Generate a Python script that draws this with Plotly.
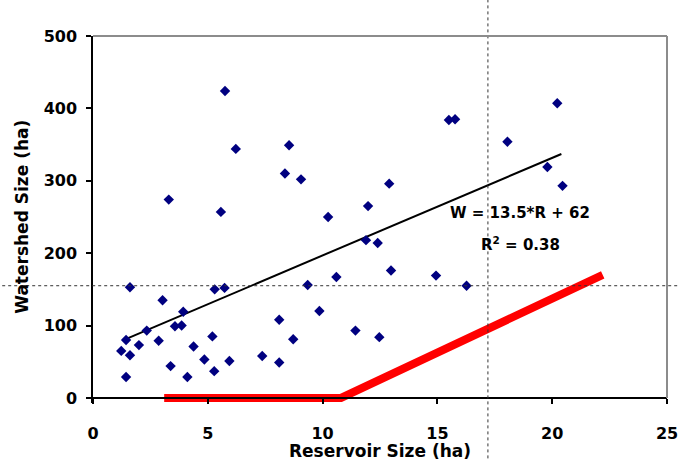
import plotly.graph_objects as go

# Scatter data: reservoir size (ha) vs watershed size (ha)
reservoir = [5.75, 6.22, 8.54, 8.36, 9.06, 3.30, 5.57, 10.24, 11.98, 11.89,
             12.40, 10.60, 9.35, 1.61, 5.30, 5.73, 3.03, 3.93, 2.34, 3.57,
             3.86, 9.86, 8.11, 1.44, 2.00, 2.86, 1.23, 1.61, 4.38, 5.20,
             8.72, 11.43, 12.47, 7.37, 8.11, 4.85, 5.28, 5.94, 3.38, 4.11,
             1.44, 12.90, 15.50, 15.77, 18.05, 20.22, 19.79, 20.45, 12.98, 14.94,
             16.27]
watershed = [424, 344, 349, 310, 302, 274, 257, 250, 265, 218,
             214, 167, 156, 153, 150, 152, 135, 119, 93, 99,
             100, 120, 108, 80, 73, 79, 65, 59, 71, 85,
             81, 93, 84, 58, 49, 53, 37, 51, 44, 29,
             29, 296, 384, 385, 354, 407, 319, 293, 176, 169,
             155]

# Regression line end points
trend_x = [1.4, 20.4]
trend_y = [81, 337]

# Red threshold line
red_x = [3.1, 10.8, 22.2]
red_y = [0, 0, 170]

# Reference (dotted) lines
ref_x = 17.2
ref_y = 155

x_ticks = [0, 5, 10, 15, 20, 25]
y_ticks = [0, 100, 200, 300, 400, 500]

FONT = "DejaVu Sans"
Y_MIN = -7
Y_MAX = 500

fig = go.Figure()
fig.add_trace(go.Scatter(x=trend_x, y=trend_y, mode="lines",
                         line=dict(color="black", width=2), showlegend=False))
fig.add_trace(go.Scatter(x=reservoir, y=watershed, mode="markers",
                         marker=dict(symbol="diamond", size=8, color="#000080",
                                     line=dict(width=0)),
                         showlegend=False))
fig.add_trace(go.Scatter(x=red_x, y=red_y, mode="lines",
                         line=dict(color="#FF0000", width=8), showlegend=False))

# dotted reference lines spanning beyond the plot area
fig.add_shape(type="line", xref="x", yref="paper", x0=ref_x, x1=ref_x,
              y0=-0.2, y1=1.2, line=dict(color="#333333", width=1, dash="dot"))
fig.add_shape(type="line", xref="paper", yref="y", x0=-0.2, x1=1.1,
              y0=ref_y, y1=ref_y, line=dict(color="#333333", width=1, dash="dot"))

pos0 = (0 - Y_MIN) / (Y_MAX - Y_MIN)
# gray frame top & right
fig.add_shape(type="line", xref="paper", yref="paper", x0=0, x1=1, y0=1, y1=1,
              line=dict(color="#8c8c8c", width=2))
fig.add_shape(type="line", xref="paper", yref="paper", x0=1, x1=1, y0=pos0, y1=1,
              line=dict(color="#8c8c8c", width=2))

fig.add_annotation(x=18.6, y=255, xref="x", yref="y", text="<b>W = 13.5*R + 62</b>",
                   showarrow=False, font=dict(family=FONT, size=15, color="black"))
fig.add_annotation(x=18.6, y=212, xref="x", yref="y", text="<b>R<sup>2</sup> = 0.38</b>",
                   showarrow=False, font=dict(family=FONT, size=15, color="black"))

fig.add_annotation(x=0.5, y=-0.13, xref="paper", yref="paper", text="<b>Reservoir Size (ha)</b>",
                   showarrow=False, yanchor="middle",
                   font=dict(family=FONT, size=17, color="black"))
fig.add_annotation(x=-0.124, y=0.507, xref="paper", yref="paper", text="<b>Watershed Size (ha)</b>",
                   showarrow=False, textangle=-90, xanchor="center", yanchor="middle",
                   font=dict(family=FONT, size=17, color="black"))

fig.update_layout(
    template="none",
    width=680, height=460,
    margin=dict(l=93, r=13, t=36, b=57),
    paper_bgcolor="white", plot_bgcolor="white",
    font=dict(family=FONT, color="black"),
    xaxis=dict(range=[0, 25], tickvals=x_ticks, ticktext=[f"<b>{v}</b>" for v in x_ticks],
               showgrid=False, zeroline=False, showline=True, linecolor="black", linewidth=1.5,
               ticks="outside", ticklen=5, tickcolor="black", tickwidth=1.5,
               anchor="free", position=pos0, ticklabelstandoff=16, automargin=False,
               tickfont=dict(family=FONT, size=16, color="black")),
    yaxis=dict(range=[Y_MIN, Y_MAX], tickvals=y_ticks, ticktext=[f"<b>{v}</b>" for v in y_ticks],
               showgrid=False, zeroline=False, showline=True, linecolor="black", linewidth=1.5,
               ticks="outside", ticklen=5, tickcolor="black", tickwidth=1.5,
               ticklabelstandoff=6, automargin=False,
               tickfont=dict(family=FONT, size=16, color="black")),
)

fig.write_html("out.html")
